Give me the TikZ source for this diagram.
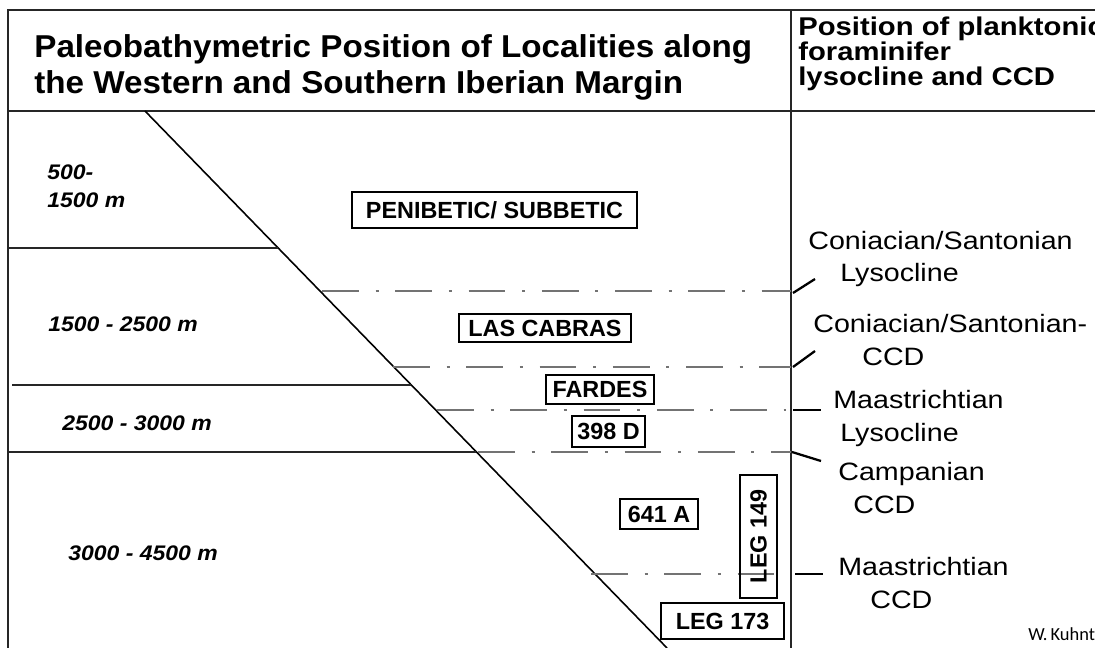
\documentclass[tikz,border=0pt]{standalone}
\usepackage{fontspec}
\setmainfont{Liberation Sans}
\newfontfamily\wideA{Liberation Sans}[FakeStretch=1.14]
\newfontfamily\wideB{Liberation Sans}[FakeStretch=1.09]
\newfontfamily\wideC{Liberation Sans}[FakeStretch=1.05]
\newfontfamily\kfont{Carlito}
\begin{document}
\begin{tikzpicture}[x=0.02cm,y=-0.02cm,
  frame/.style={line width=0.9pt, draw=black!85},
  ddline/.style={line width=0.6pt, draw=black!55, dash pattern=on 21pt off 9.5pt on 1.7pt off 9.5pt},
  tickline/.style={line width=1.3pt},
  lbl/.style={inner sep=0, anchor=base west, font=\wideA\fontsize{14.3}{15}\selectfont},
  ttl/.style={inner sep=0, anchor=base west, font=\wideC\fontsize{18}{20}\selectfont\bfseries},
  hdr/.style={inner sep=0, anchor=base west, font=\wideA\fontsize{14.6}{15}\selectfont\bfseries},
  depth/.style={inner sep=0, anchor=base west, font=\wideB\fontsize{12}{14}\selectfont\bfseries\itshape},
  site/.style={draw, line width=1.1pt, inner sep=0, font=\fontsize{13.3}{14}\selectfont\bfseries}
]
\useasboundingbox[fill=white] (0,0) rectangle (1095,648);

% frame
\coordinate (tl) at (8,10);
\coordinate (tr) at (1095,10);
\coordinate (bl) at (8,648);
\coordinate (dtop) at (791,10);
\coordinate (dbot) at (791,648);
\coordinate (hl) at (8,111);
\coordinate (hr) at (1095,111);
\draw[frame] (bl) -- (tl) -- (tr);
\draw[frame] (dtop) -- (dbot);
\draw[frame] (hl) -- (hr);

% slope
\coordinate (s1) at (145,111);
\coordinate (s2) at (667,648);
\draw[frame, draw=black] (s1) -- (s2);

% depth boundaries
\coordinate (b1l) at (8,248);   \coordinate (b1r) at (278,248);
\coordinate (b2l) at (12,385);  \coordinate (b2r) at (411,385);
\coordinate (b3l) at (8,452);   \coordinate (b3r) at (476,452);
\draw[frame, line width=0.7pt] (b1l) -- (b1r);
\draw[frame, line width=0.7pt] (b2l) -- (b2r);
\draw[frame, line width=0.7pt] (b3l) -- (b3r);

% dash-dot levels
\coordinate (d1a) at (322,291); \coordinate (d1b) at (791,291);
\coordinate (d2a) at (393,367); \coordinate (d2b) at (791,367);
\coordinate (d3a) at (437,410); \coordinate (d3b) at (786,410);
\coordinate (d4a) at (478,452); \coordinate (d4b) at (791,452);
\coordinate (d5a) at (591,574); \coordinate (d5b) at (781,574);
\draw[ddline] (d1a) -- (d1b);
\draw[ddline] (d2a) -- (d2b);
\draw[ddline] (d3a) -- (d3b);
\draw[ddline] (d4a) -- (d4b);
\draw[ddline] (d5a) -- (d5b);

% ticks
\coordinate (t1a) at (793,293); \coordinate (t1b) at (815,279);
\coordinate (t2a) at (793,367); \coordinate (t2b) at (815,351);
\coordinate (t3a) at (793,410); \coordinate (t3b) at (821,410);
\coordinate (t4a) at (792,452); \coordinate (t4b) at (821,461);
\coordinate (t5a) at (795,574); \coordinate (t5b) at (823,574);
\draw[tickline] (t1a) -- (t1b);
\draw[tickline] (t2a) -- (t2b);
\draw[tickline] (t3a) -- (t3b);
\draw[tickline] (t4a) -- (t4b);
\draw[tickline] (t5a) -- (t5b);

% titles
\node[ttl] (title1) at (34,58) {Paleobathymetric Position of Localities along};
\node[ttl] (title2) at (34,94) {the Western and Southern Iberian Margin};
\node[hdr] (head1) at (798,36) {Position of planktonic};
\node[hdr] (head2) at (798,61) {foraminifer};
\node[hdr] (head3) at (798,86) {lysocline and CCD};

% depth labels
\node[depth] (dp1) at (47,180) {500-};
\node[depth] (dp2) at (47,208) {1500 m};
\node[depth] (dp3) at (48,332) {1500 - 2500 m};
\node[depth] (dp4) at (62,430) {2500 - 3000 m};
\node[depth] (dp5) at (68,560) {3000 - 4500 m};

% sites
\node[site, minimum width=5.7cm, minimum height=0.72cm] (pen) at (494.5,210) {PENIBETIC/ SUBBETIC};
\node[site, minimum width=3.44cm, minimum height=0.56cm] (las) at (545,328) {LAS CABRAS};
\node[site, minimum width=2.16cm, minimum height=0.58cm] (far) at (600,389.5) {FARDES};
\node[site, minimum width=1.46cm, minimum height=0.62cm] (dsdp) at (608.5,431.5) {398 D};
\node[site, minimum width=1.56cm, minimum height=0.6cm] (odp) at (659,514) {641 A};
\node[site, minimum width=2.46cm, minimum height=0.74cm, rotate=90] (leg149) at (758.5,536.5) {LEG 149};
\node[site, minimum width=2.46cm, minimum height=0.72cm] (leg173) at (722.5,621) {LEG 173};

% right labels
\node[lbl] (r1) at (808,250) {Coniacian/Santonian};
\node[lbl] (r2) at (840,282) {Lysocline};
\node[lbl] (r3) at (813,333) {Coniacian/Santonian-};
\node[lbl] (r4) at (862,365) {CCD};
\node[lbl] (r5) at (833,408) {Maastrichtian};
\node[lbl] (r6) at (840,441) {Lysocline};
\node[lbl] (r7) at (838,480) {Campanian};
\node[lbl] (r8) at (853,513) {CCD};
\node[lbl] (r9) at (838,575) {Maastrichtian};
\node[lbl] (r10) at (870,608) {CCD};

\node[inner sep=0, anchor=base west, font=\kfont\fontsize{10.5}{12}\selectfont] (author) at (1028,640) {W.\,Kuhnt};
\end{tikzpicture}
\end{document}
